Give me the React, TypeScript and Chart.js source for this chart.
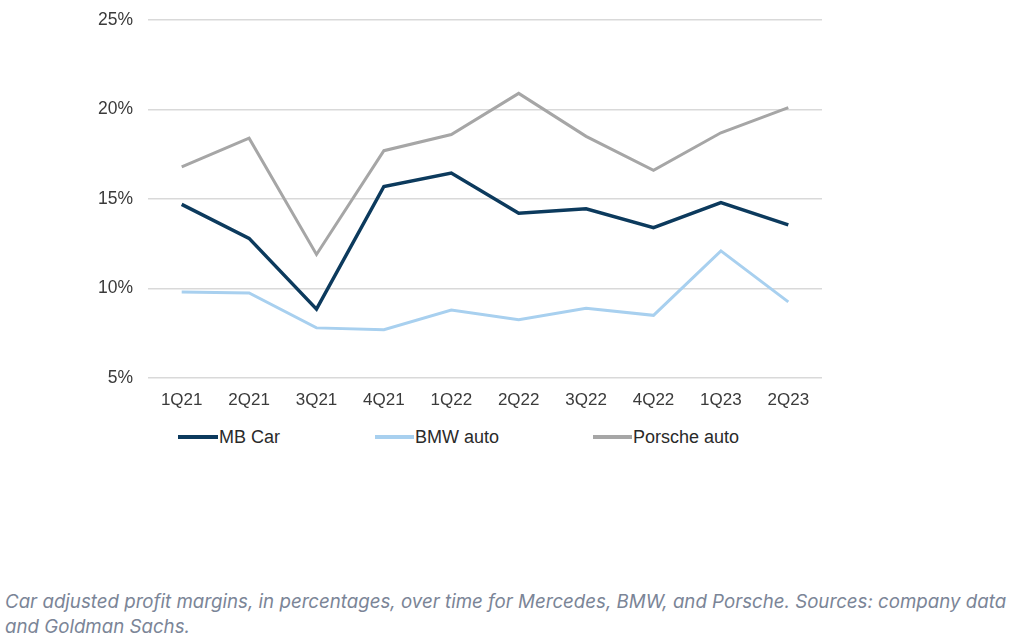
import React, { useEffect, useRef } from "react";
import { Chart, registerables } from "chart.js";

Chart.register(...registerables);

const categories = ["1Q21", "2Q21", "3Q21", "4Q21", "1Q22", "2Q22", "3Q22", "4Q22", "1Q23", "2Q23"];
const mbCar = [14.7, 12.8, 8.85, 15.7, 16.45, 14.2, 14.45, 13.4, 14.8, 13.55];
const bmwAuto = [9.8, 9.75, 7.8, 7.7, 8.8, 8.25, 8.9, 8.5, 12.1, 9.25];
const porscheAuto = [16.8, 18.4, 11.9, 17.7, 18.6, 20.9, 18.5, 16.6, 18.7, 20.1];
const seriesNames = ["MB Car", "BMW auto", "Porsche auto"];
const yTicks = [5, 10, 15, 20, 25];
const caption1 = "Car adjusted profit margins, in percentages, over time for Mercedes, BMW, and Porsche. Sources: company data";
const caption2 = "and Goldman Sachs.";

const COLORS = ["#0c3a5d", "#a8d0ef", "#a6a6a6"];
const WIDTHS = [3.5, 3, 3];

export default function App() {
  const ref = useRef<HTMLCanvasElement>(null);
  useEffect(() => {
    if (!ref.current) return;
    const chart = new Chart(ref.current, {
      type: "line",
      data: {
        labels: categories,
        datasets: [mbCar, bmwAuto, porscheAuto].map((d, i) => ({
          label: seriesNames[i],
          data: d,
          borderColor: COLORS[i],
          backgroundColor: COLORS[i],
          borderWidth: WIDTHS[i],
          pointRadius: 0,
          tension: 0,
          fill: false,
        })),
      },
      options: {
        animation: false,
        responsive: false,
        maintainAspectRatio: false,
        layout: { padding: { top: 20, right: 190, left: 0, bottom: 0 } },
        plugins: { legend: { display: false }, tooltip: { enabled: false } },
        scales: {
          x: {
            offset: true,
            grid: { display: false, drawTicks: false },
            border: { display: false },
            ticks: { color: "#3a3a3a", font: { family: "Liberation Sans", size: 17 }, padding: 12, maxRotation: 0, autoSkip: false },
            afterFit: (s: any) => { s.height = 42; s.paddingLeft = 0; s.paddingRight = 0; },
          },
          y: {
            min: 5,
            max: 25,
            afterBuildTicks: (s: any) => { s.ticks = yTicks.map((v) => ({ value: v })); },
            grid: { color: "#d9d9d9", lineWidth: 1.5, drawTicks: false },
            border: { display: false },
            ticks: {
              color: "#3a3a3a",
              font: { family: "Liberation Sans", size: 17.5 },
              padding: 15,
              callback: (v: any) => v + "%",
            },
            afterFit: (s: any) => { s.width = 148; s.paddingTop = 0; s.paddingBottom = 0; },
          },
        },
      },
    });
    return () => chart.destroy();
  }, []);

  const legendItems = [
    { x: 178, w: 40 },
    { x: 375, w: 39 },
    { x: 593, w: 39 },
  ];

  return (
    <div style={{ position: "absolute", left: 0, top: 0, width: 1012, height: 641, background: "#fff", overflow: "hidden" }}>
      <canvas ref={ref} width={1012} height={420} style={{ position: "absolute", left: 0, top: 0, width: 1012, height: 420 }} />
      {legendItems.map((it, i) => (
        <div key={i} style={{ position: "absolute", left: it.x, top: 425, height: 24, display: "flex", alignItems: "center" }}>
          <div style={{ width: it.w, height: 4, background: COLORS[i] }} />
          <span style={{ fontFamily: "Liberation Sans", fontSize: 18, color: "#2a2a2a", marginLeft: 1 }}>{seriesNames[i]}</span>
        </div>
      ))}
      <div style={{ position: "absolute", left: 5, top: 589, fontFamily: "Inter", fontStyle: "italic", fontSize: 18.7, lineHeight: "25px", color: "#7b8597", whiteSpace: "nowrap" }}>
        {caption1}
        <br />
        {caption2}
      </div>
    </div>
  );
}
